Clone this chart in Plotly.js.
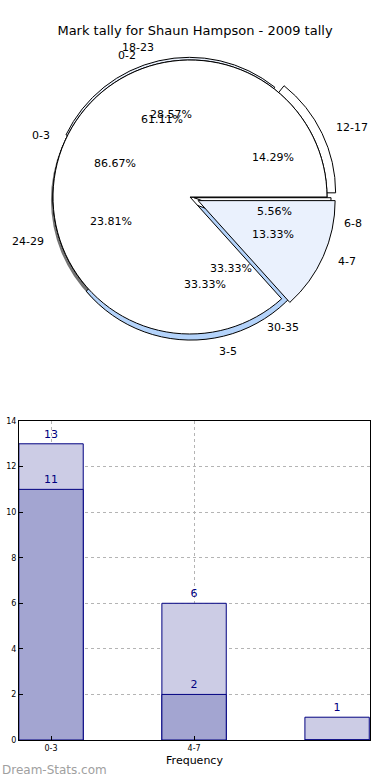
<!DOCTYPE html>
<html>
<head>
<meta charset="utf-8">
<script src="https://cdn.plot.ly/plotly-3.0.1.min.js"></script>
<style>html,body{margin:0;padding:0;background:#fff;}#chart{width:390px;height:780px;}</style>
</head>
<body>
<div id="chart"></div>
<script>
// Pie 1
const pie1Labels = ['0-2', '3-5', '6-8'];
const pie1Values = [11, 6, 1];
// Pie 2
const pie2Labels = ['0-3', '4-7'];
const pie2Values = [13, 2];
// Pie 3
const pie3Labels = ['12-17', '18-23', '24-29', '30-35'];
const pie3Values = [3, 6, 5, 7];

// Bar chart
const barCategories = ['0-3', '4-7', '8-11'];
const barTickLabels = ['0-3', '4-7'];
const lightValues = [13, 6, 1];
const darkValues = [11, 2, 0];

// ---- pie geometry (pixels) ----
const W = 390, H = 780;
const CX = 190, CY = 197, R0 = 137;

function domainFor(maxPull, dx, dy) {
  const half = R0 * (1 + maxPull);
  const cx = CX + (dx || 0), cy = CY + (dy || 0);
  return {x: [(cx - half) / W, (cx + half) / W], y: [1 - (cy + half) / H, 1 - (cy - half) / H]};
}

const pies = [
  {labels: pie3Labels, values: pie3Values, colors: ['#ffffff', '#eaf1fd', '#ffffff', '#ffffff'], pull: [0.07, 0.02, 0, 0]},
  {labels: pie1Labels, values: pie1Values, colors: ['#ffffff', '#b4d3fa', '#ffffff'], pull: [0, 0.045, 0.03]},
  {labels: pie2Labels, values: pie2Values, colors: ['#ffffff', '#eaf1fd'], pull: [0, 0.065]}
];

const traces = [];
// shadow
const shadowTotal = pie2Values.reduce((a, b) => a + b, 0);
traces.push({
  type: 'pie', values: [shadowTotal], labels: ['shadow'], sort: false,
  domain: domainFor(0, -2, 3), textinfo: 'none', hoverinfo: 'skip', showlegend: false,
  marker: {colors: ['rgba(70,70,70,0.75)'], line: {width: 0}}
});

const annotations = [];
pies.forEach(function (p) {
  const total = p.values.reduce((a, b) => a + b, 0);
  const maxPull = Math.max.apply(null, p.pull);
  const firstDeg = 360 * p.values[0] / total;
  traces.push({
    type: 'pie', labels: p.labels, values: p.values, sort: false,
    direction: 'counterclockwise', rotation: 90 - firstDeg,
    domain: domainFor(maxPull), pull: p.pull,
    marker: {colors: p.colors, line: {color: '#000', width: 1}},
    textinfo: 'none', hoverinfo: 'skip', showlegend: false
  });
  // text like matplotlib: percent at 0.6 r, label at 1.1 r (plus explode offset)
  let start = 0;
  p.values.forEach(function (v, i) {
    const span = 360 * v / total;
    const mid = (start + span / 2) * Math.PI / 180;
    start += span;
    const c = Math.cos(mid), s = Math.sin(mid);
    const off = p.pull[i] * R0;
    const pr = 0.6 * R0 + off, lr = 1.1 * R0 + off;
    annotations.push({
      text: (100 * v / total).toFixed(2) + '%', showarrow: false,
      xref: 'paper', yref: 'paper',
      x: (CX + pr * c) / W, y: 1 - (CY - pr * s) / H,
      xanchor: 'center', yanchor: 'middle',
      font: {family: 'DejaVu Sans', size: 11, color: '#000'}
    });
    annotations.push({
      text: p.labels[i], showarrow: false,
      xref: 'paper', yref: 'paper',
      x: (CX + lr * c) / W, y: 1 - (CY - lr * s) / H,
      xanchor: c >= 0 ? 'left' : 'right', yanchor: 'middle',
      font: {family: 'DejaVu Sans', size: 11, color: '#000'}
    });
  });
});

const barLine = {color: '#000080', width: 1};
const barText = {family: 'DejaVu Sans', size: 11, color: '#000080'};
traces.push({
  type: 'bar', x: barCategories, y: lightValues, width: 0.45,
  marker: {color: '#cccce5', line: barLine},
  text: lightValues.map(v => v > 0 ? String(v) : ''), textposition: 'outside', constraintext: 'none',
  textfont: barText, cliponaxis: false,
  showlegend: false, hoverinfo: 'skip', xaxis: 'x', yaxis: 'y'
});
traces.push({
  type: 'bar', x: barCategories, y: darkValues, width: 0.45,
  marker: {color: '#a3a5d1', line: barLine},
  text: darkValues.map(v => v > 0 ? String(v) : ''), textposition: 'outside', constraintext: 'none',
  textfont: barText, cliponaxis: false,
  showlegend: false, hoverinfo: 'skip', xaxis: 'x', yaxis: 'y'
});

annotations.push({
  text: 'Dream-Stats.com', xref: 'paper', yref: 'paper', x: 0, y: 1 - 770 / H,
  xanchor: 'left', yanchor: 'middle', showarrow: false,
  font: {family: 'DejaVu Sans', size: 12, color: '#a0a0a0'}
});

const layout = {
  width: W, height: H,
  margin: {l: 0, r: 0, t: 0, b: 0},
  paper_bgcolor: '#fff', plot_bgcolor: '#fff',
  font: {family: 'DejaVu Sans', color: '#000'},
  title: {text: 'Mark tally for Shaun Hampson - 2009 tally', x: 0.5, xanchor: 'center', y: 1 - 30 / H, yanchor: 'middle',
          font: {family: 'DejaVu Sans', size: 13, color: '#000'}},
  barmode: 'overlay',
  xaxis: {
    domain: [19 / W, 370 / W], anchor: 'y',
    type: 'category', categoryarray: barCategories, categoryorder: 'array',
    range: [-0.224, 2.23],
    tickmode: 'array', tickvals: barTickLabels, ticktext: barTickLabels,
    tickfont: {family: 'DejaVu Sans', size: 8, color: '#000'},
    ticks: 'inside', ticklen: 4, tickcolor: '#000',
    showline: true, linecolor: '#000', linewidth: 1, mirror: true,
    showgrid: true, gridcolor: '#b4b4b4', griddash: 'dot', gridwidth: 1,
    zeroline: false,
    title: {text: 'Frequency', font: {family: 'DejaVu Sans', size: 11, color: '#000'}, standoff: 4}
  },
  yaxis: {
    domain: [1 - 740 / H, 1 - 421 / H], anchor: 'x',
    range: [0, 14], dtick: 2, tick0: 0,
    tickfont: {family: 'DejaVu Sans', size: 8, color: '#000'},
    ticks: 'inside', ticklen: 4, tickcolor: '#000',
    showline: true, linecolor: '#000', linewidth: 1, mirror: true,
    showgrid: true, gridcolor: '#b4b4b4', griddash: 'dot', gridwidth: 1,
    zeroline: false
  },
  annotations: annotations
};

Plotly.newPlot('chart', traces, layout, {staticPlot: true, displayModeBar: false});
</script>
</body>
</html>
